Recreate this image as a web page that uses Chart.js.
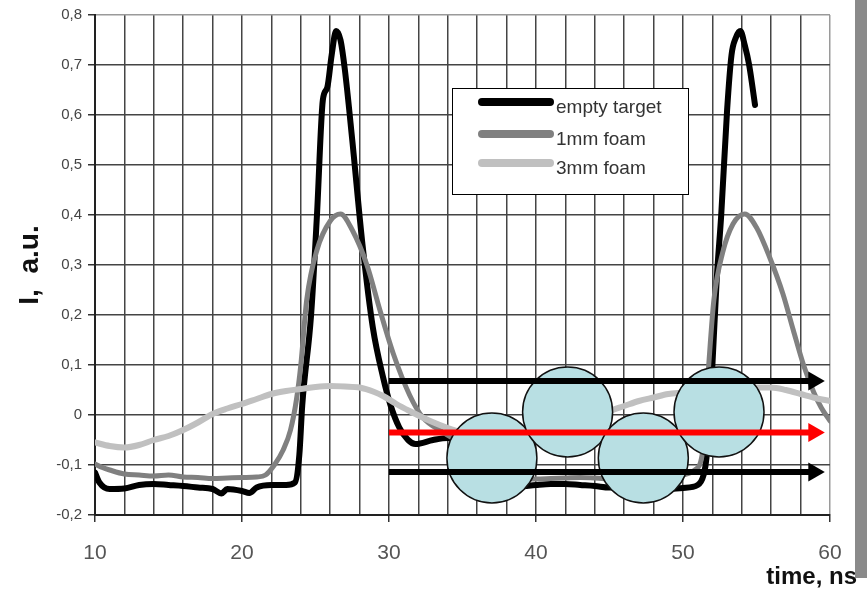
<!DOCTYPE html>
<html>
<head>
<meta charset="utf-8">
<script src="https://cdn.jsdelivr.net/npm/chart.js@4.4.1/dist/chart.umd.min.js"></script>
<style>
    html, body { margin: 0; padding: 0; background: #ffffff; }
    #wrap { position: relative; width: 867px; height: 591px; }
</style>
</head>
<body>
<div id="wrap"><canvas id="pulse-chart"></canvas></div>
<script>
// Pulse shapes behind empty target / foam layers

const emptyTime = [10, 10.3, 11, 12, 13, 14, 15, 16, 17, 18, 18.6, 19, 20, 20.5, 21, 22, 23, 23.6, 23.9, 24.1,
    24.7, 25.1, 25.5, 25.8, 26.1, 26.4, 26.7, 27.0, 27.5, 28.2, 28.9, 29.6, 30.1, 30.7, 31.3, 31.8, 33, 34, 35,
    35.5, 36.5, 37.5, 38, 39, 40, 41, 42, 43, 44, 45, 46, 47, 48, 49, 50, 51, 51.4, 51.6, 52.0, 52.3, 52.6,
    53.0, 53.3, 53.6, 53.9, 54.2, 54.5, 54.9];
const emptyValues = [-0.115, -0.135, -0.148, -0.147, -0.14, -0.138, -0.14, -0.142, -0.145, -0.148, -0.157, -0.148,
    -0.152, -0.156, -0.145, -0.14, -0.14, -0.135, -0.08, 0.02, 0.2, 0.4, 0.63, 0.655, 0.72, 0.768, 0.75, 0.69,
    0.55, 0.34, 0.175, 0.075, 0.02, -0.025, -0.05, -0.058, -0.05, -0.046, -0.05, -0.06, -0.12, -0.14, -0.145,
    -0.143, -0.14, -0.138, -0.138, -0.14, -0.142, -0.145, -0.145, -0.147, -0.148, -0.148, -0.146, -0.14, -0.12,
    -0.085, 0.1, 0.275, 0.4, 0.61, 0.72, 0.755, 0.768, 0.74, 0.7, 0.62];

const foam1Time = [10, 10.5, 11, 12, 13, 14, 15, 16, 17, 18, 19, 20, 21, 21.6, 22.2, 22.8, 23.3, 23.7, 24.0, 24.4,
    25.1, 26.0, 26.7, 27.5, 28.5, 29.4, 30.3, 31.4, 32.3, 33.7, 35, 36, 37, 38, 39, 40, 41, 42, 43, 44, 45, 46,
    47, 48, 49, 50, 50.8, 51.3, 51.7, 52.1, 52.7, 53.4, 54.2, 55.0, 55.9, 56.8, 57.5, 58.2, 58.9, 59.4, 60];
const foam1Values = [-0.098, -0.105, -0.11, -0.118, -0.12, -0.122, -0.12, -0.124, -0.125, -0.127, -0.126, -0.125,
    -0.124, -0.12, -0.1, -0.07, -0.03, 0.03, 0.1, 0.23, 0.33, 0.388, 0.402, 0.37, 0.3, 0.208, 0.122, 0.04, -0.005,
    -0.035, -0.06, -0.09, -0.11, -0.122, -0.127, -0.128, -0.127, -0.126, -0.125, -0.126, -0.128, -0.13, -0.13,
    -0.128, -0.125, -0.12, -0.11, -0.08, 0.08, 0.23, 0.325, 0.382, 0.402, 0.375, 0.315, 0.242, 0.17, 0.1, 0.045,
    0.015, -0.012];

const foam3Time = [10, 11, 12, 13, 14, 15, 16, 17, 18, 19, 20, 21, 22, 23, 24, 25, 26, 27, 28, 29, 29.6, 30.5,
    31.4, 32.8, 34.1, 35, 36, 37, 38, 39, 40, 41, 42, 43, 44, 45, 46, 47, 48, 49, 50, 51, 52, 53, 54, 55, 56,
    57, 58, 59, 60];
const foam3Values = [-0.055, -0.062, -0.065, -0.06, -0.05, -0.042, -0.03, -0.015, 0.002, 0.013, 0.022, 0.032,
    0.042, 0.048, 0.052, 0.056, 0.058, 0.057, 0.055, 0.046, 0.038, 0.022, 0.008, -0.012, -0.027, -0.035, -0.04,
    -0.042, -0.04, -0.035, -0.03, -0.022, -0.015, -0.008, 0.0, 0.008, 0.018, 0.028, 0.035, 0.042, 0.045, 0.048,
    0.05, 0.052, 0.054, 0.055, 0.055, 0.05, 0.042, 0.034, 0.028];

// overlay sketch: spheres and beams
const sphereTimes = [37.0, 42.15, 47.3, 52.45];
const sphereValues = [-0.086, 0.006, -0.086, 0.006];
const beamStart = 30;
const beamEnd = 58.9;
const beamLevels = [0.068, -0.035, -0.114];

const seriesLabels = ['empty target', '1mm foam', '3mm foam'];
const xTickStep = 2;
const yTickStep = 0.1;

const toPoints = (xs, ys) => xs.map((x, i) => ({ x: x, y: ys[i] }));

const curveStyle = {
    showLine: true,
    pointRadius: 0,
    pointHoverRadius: 0,
    cubicInterpolationMode: 'monotone',
    borderJoinStyle: 'round',
    borderCapStyle: 'round',
    fill: false
};

const beamColors = ['#000000', '#ff0000', '#000000'];

const beamDatasets = beamLevels.map((level, i) => ({
    label: 'beam' + i,
    data: [{ x: beamStart, y: level }, { x: beamEnd, y: level }],
    showLine: true,
    borderColor: beamColors[i],
    backgroundColor: beamColors[i],
    borderWidth: 6,
    pointRadius: [0, 11],
    pointStyle: 'triangle',
    pointRotation: 90,
    pointBorderWidth: 0,
    pointBackgroundColor: beamColors[i],
    order: 0
}));

// framed legend, drawn inside the plot like the original
const boxLegend = {
    id: 'boxLegend',
    afterDatasetsDraw(chart) {
        const ctx = chart.ctx;
        const box = { x: 452, y: 88, w: 236, h: 106 };
        ctx.save();
        ctx.fillStyle = '#ffffff';
        ctx.fillRect(box.x, box.y, box.w, box.h);
        ctx.strokeStyle = '#000000';
        ctx.lineWidth = 1;
        ctx.strokeRect(box.x + 0.5, box.y + 0.5, box.w, box.h);
        const rows = [102, 134, 163];
        ctx.font = '19px "Liberation Sans", Arial, sans-serif';
        ctx.textBaseline = 'middle';
        ctx.lineCap = 'round';
        for (let i = 0; i < 3; i++) {
            const ds = chart.data.datasets[i];
            ctx.strokeStyle = ds.borderColor;
            ctx.lineWidth = 8;
            ctx.beginPath();
            ctx.moveTo(482, rows[i]);
            ctx.lineTo(550, rows[i]);
            ctx.stroke();
            ctx.fillStyle = '#333333';
            ctx.fillText(ds.label, 556, rows[i] + 6);
        }
        ctx.restore();
    },
    afterDraw(chart) {
        const ctx = chart.ctx;
        ctx.save();
        ctx.font = 'bold 24px "Liberation Sans", Arial, sans-serif';
        ctx.fillStyle = '#111111';
        ctx.textAlign = 'right';
        ctx.textBaseline = 'alphabetic';
        ctx.fillText('time, ns', 857, 584);
        ctx.fillStyle = '#8a8a8a';
        ctx.fillRect(855, 0, 12, 578);
        ctx.restore();
    }
};

const ctx = document.getElementById('pulse-chart').getContext('2d');

new Chart(ctx, {
    type: 'scatter',
    data: {
        datasets: [
            {
                ...curveStyle,
                label: seriesLabels[0],
                data: toPoints(emptyTime, emptyValues),
                borderColor: '#000000',
                borderWidth: 6,
                order: 4
            },
            {
                ...curveStyle,
                label: seriesLabels[1],
                data: toPoints(foam1Time, foam1Values),
                borderColor: '#808080',
                borderWidth: 5,
                order: 3
            },
            {
                ...curveStyle,
                label: seriesLabels[2],
                data: toPoints(foam3Time, foam3Values),
                borderColor: '#c0c0c0',
                borderWidth: 6,
                order: 2
            },
            {
                label: 'spheres',
                data: toPoints(sphereTimes, sphereValues),
                showLine: false,
                pointRadius: 45,
                pointHoverRadius: 45,
                pointBackgroundColor: '#b8dfe3',
                pointBorderColor: '#111111',
                pointBorderWidth: 1.5,
                order: 1
            },
            ...beamDatasets
        ]
    },
    options: {
        responsive: true,
        maintainAspectRatio: false,
        animation: false,
        events: [],
        layout: {
            autoPadding: false,
            padding: { left: 0, right: 37, top: 15, bottom: 0 }
        },
        plugins: {
            legend: { display: false },
            tooltip: { enabled: false }
        },
        scales: {
            x: {
                type: 'linear',
                min: 10,
                max: 60,
                afterFit: (scale) => { scale.height = 76; },
                border: { color: '#222222', width: 2 },
                grid: {
                    color: (c) => (c.tick && c.tick.value === 60 ? '#9a9a9a' : '#444444'),
                    lineWidth: 1.5,
                    tickLength: 7,
                    tickColor: (c) => (c.tick && c.tick.value % 10 === 0 ? '#333333' : 'rgba(0,0,0,0)')
                },
                ticks: {
                    stepSize: xTickStep,
                    autoSkip: false,
                    maxRotation: 0,
                    padding: 19,
                    color: '#555555',
                    font: { family: '"Liberation Sans", Arial, sans-serif', size: 21 },
                    callback: (v) => (v % 10 === 0 ? String(v) : '')
                }
            },
            y: {
                min: -0.2,
                max: 0.8,
                afterFit: (scale) => { scale.width = 95; },
                border: { color: '#222222', width: 2 },
                grid: {
                    color: (c) => (c.tick && Math.abs(c.tick.value - 0.8) < 1e-6 ? '#9a9a9a' : '#444444'),
                    lineWidth: 1.5,
                    tickLength: 7,
                    tickColor: '#333333'
                },
                ticks: {
                    stepSize: yTickStep,
                    padding: 6,
                    color: '#444444',
                    font: { family: '"Liberation Sans", Arial, sans-serif', size: 15 },
                    callback: (v) => {
                        const r = Math.round(v * 10) / 10;
                        return r === 0 ? '0' : r.toFixed(1).replace('.', ',');
                    }
                },
                title: {
                    display: true,
                    text: 'I,  a.u.',
                    color: '#111111',
                    padding: { top: 13, bottom: 0 },
                    font: { family: '"Liberation Sans", Arial, sans-serif', size: 28, weight: 'bold' }
                }
            }
        }
    },
    plugins: [boxLegend]
});
</script>
</body>
</html>
